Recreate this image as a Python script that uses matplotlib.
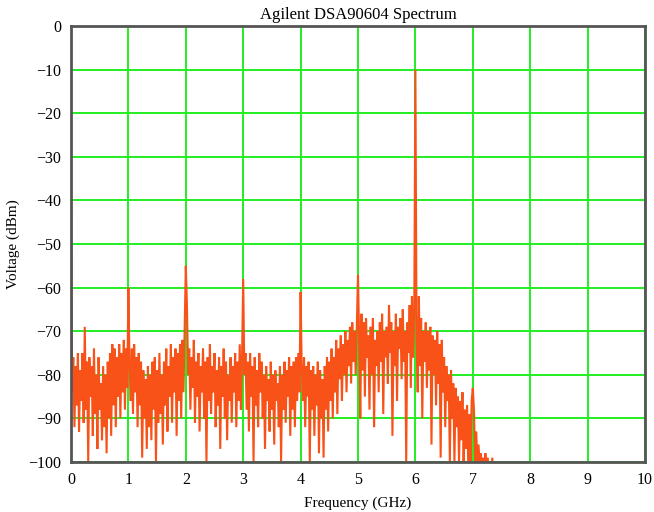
import numpy as np
import matplotlib
matplotlib.use("Agg")
import matplotlib.pyplot as plt

freq_step_ghz = 0.02
voltage_dbm = [
    -37, -84, -76, -92, -78, -87, -75, -93, -79, -86, -75, -91, -69, -88, -77, -100, -76, -85, -78, -94,
    -74, -89, -80, -97, -76, -88, -82, -95, -78, -92, -80, -98, -77, -90, -75, -94, -73, -87, -74, -92,
    -76, -85, -73, -90, -75, -84, -72, -88, -74, -83,
    -60, -78, -86, -74, -89, -73, -84, -76, -92, -75, -87, -77, -99, -79, -90, -81, -97, -78, -92, -80,
    -95, -77, -88, -76, -100, -79, -91, -75, -89, -80, -96, -77, -87, -74, -93, -78, -85, -73, -91, -76,
    -84, -74, -94, -75, -86, -73, -90, -72, -84, -70,
    -55, -64, -80, -74, -88, -76, -83, -72, -91, -77, -85, -75, -93, -78, -84, -74, -90, -77, -100, -76,
    -86, -73, -89, -78, -84, -75, -92, -79, -87, -76, -97, -78, -85, -74, -90, -77, -95, -80, -86, -76,
    -91, -78, -84, -75, -92, -77, -86, -73, -88, -76,
    -58, -80, -75, -88, -77, -93, -75, -85, -78, -100, -76, -87, -79, -92, -75, -84, -77, -90, -80, -97,
    -78, -86, -81, -93, -77, -88, -80, -96, -79, -86, -82, -92, -78, -100, -80, -88, -77, -91, -79, -85,
    -76, -94, -78, -88, -77, -92, -76, -86, -75, -84,
    -61, -79, -86, -76, -92, -78, -85, -77, -100, -79, -88, -78, -94, -80, -87, -77, -98, -79, -90, -81,
    -99, -78, -88, -76, -93, -77, -86, -74, -90, -76, -84, -72, -89, -74, -81, -71, -86, -73, -80, -70,
    -84, -72, -78, -69, -82, -68, -77, -70, -80, -68,
    -57, -72, -90, -66, -79, -68, -85, -67, -76, -71, -88, -69, -80, -67, -92, -72, -78, -70, -84, -68,
    -77, -66, -89, -70, -76, -69, -82, -64, -75, -68, -94, -70, -78, -66, -86, -69, -74, -67, -81, -65,
    -77, -70, -100, -68, -75, -64, -83, -62, -76, -66,
    -10, -72, -84, -62, -78, -67, -90, -70, -77, -68, -83, -70, -79, -69, -96, -71, -80, -72, -87, -70,
    -82, -73, -99, -72, -84, -76, -92, -78, -86, -80, -100, -79, -90, -82, -100, -83, -92, -85, -100, -86,
    -95, -84, -100, -88, -97, -87, -100, -89, -100, -86,
    -83, -88, -100, -93, -101, -96, -101, -98, -102, -99, -102, -98, -103, -99, -103, -100, -104, -99, -105,
]

x_ticks = [0, 1, 2, 3, 4, 5, 6, 7, 8, 9, 10]
y_ticks = [0, -10, -20, -30, -40, -50, -60, -70, -80, -90, -100]

title = "Agilent DSA90604 Spectrum"
x_label = "Frequency (GHz)"
y_label = "Voltage (dBm)"

plt.rcParams['font.family'] = ['Liberation Serif', 'DejaVu Serif']

freq = np.arange(len(voltage_dbm)) * freq_step_ghz

fig = plt.figure(figsize=(6.54, 5.12), dpi=100)
ax = fig.add_axes([71 / 654, 1 - 462 / 512, 574 / 654, 436 / 512])

ax.plot(freq, voltage_dbm, color='#f85218', linewidth=1.5,
        solid_joinstyle='bevel', zorder=3)

ax.set_xlim(0, 10)
ax.set_ylim(-100, 0)
ax.set_xticks(x_ticks)
ax.set_yticks(y_ticks)
ax.grid(True, color='#22ee22', linewidth=1.4, zorder=1)
ax.set_axisbelow(True)
ax.tick_params(length=0, labelsize=11.5, pad=7)
for s in ax.spines.values():
    s.set_color('#555555')
    s.set_linewidth(2)
    s.set_zorder(4)

ax.set_title(title, fontsize=12, pad=5)
ax.set_xlabel(x_label, fontsize=11, labelpad=6)
ax.set_ylabel(y_label, fontsize=11, labelpad=6)

fig.savefig("out.png", dpi=100)
